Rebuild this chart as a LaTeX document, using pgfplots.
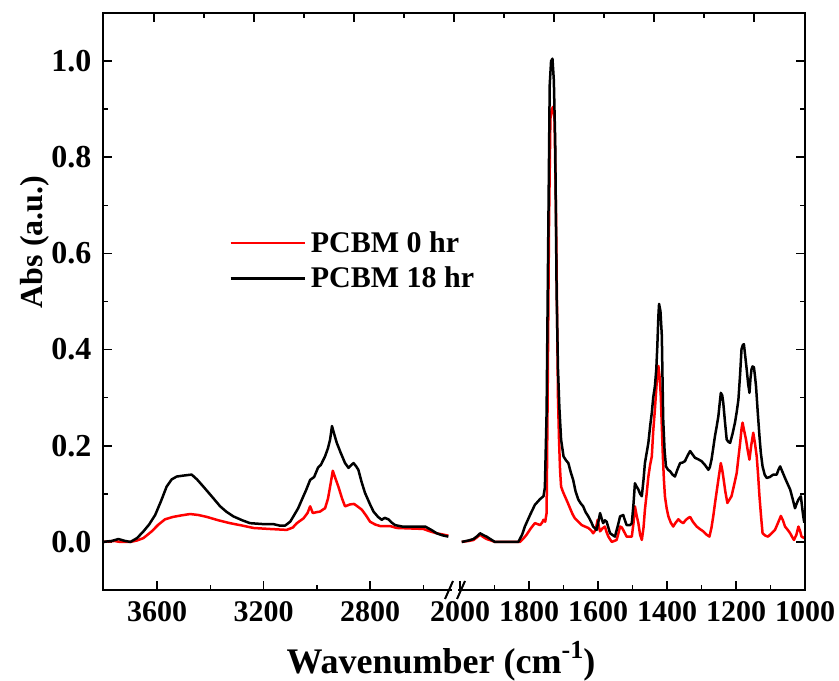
\documentclass[border=0pt]{standalone}
\usepackage{fontspec}
\setmainfont{Liberation Serif}
\usepackage{pgfplots}
\pgfplotsset{compat=1.18}
\usetikzlibrary{calc}

\begin{document}
\begin{tikzpicture}
\pgfplotsset{
  common/.style={
    scale only axis, height=577pt, ymin=-0.1, ymax=1.1, x dir=reverse,
    axis line style={draw=none},
    ytick={0,0.2,0.4,0.6,0.8,1.0},
    minor ytick={-0.1,0.1,0.3,0.5,0.7,0.9,1.1},
    tick style={line width=1.6pt, black},
    major tick length=9pt, minor tick length=5pt,
    tick align=inside,
    /pgf/number format/assume math mode=true,
    /pgf/number format/set thousands separator={},
    xticklabel style={font=\fontsize{30}{30}\selectfont\bfseries, yshift=-8pt},
    yticklabel style={font=\fontsize{32}{32}\selectfont\bfseries, /pgf/number format/fixed, /pgf/number format/fixed zerofill, /pgf/number format/precision=1},
    xtick pos=left,
    every axis plot/.append style={line width=2.5pt, line join=round},
  },
}
% left segment
\begin{axis}[common, name=L, width=352pt, xmin=2481, xmax=3803,
  xtick={3600,3200,2800}, minor xtick={3400,3000,2600},
  ytick pos=left, yticklabel style={xshift=-8pt},
  legend style={draw=none, fill=none, at={(0.35,0.628)}, anchor=north west,
    font=\fontsize{30}{30}\selectfont\bfseries, row sep=9pt},
  legend cell align=left,
  legend image code/.code={\draw[#1, line width=2.5pt] (0pt,0pt) -- (74pt,0pt); \path (77pt,0pt);},
  ]
\addplot[red] coordinates {
(3803,0.000) (3760,0.002) (3740,0.000) (3700,0.000) (3675,0.003) (3651,0.008)
(3620,0.022) (3595,0.036) (3570,0.047) (3540,0.052) (3510,0.055) (3476,0.058)
(3445,0.056) (3413,0.052) (3370,0.045) (3326,0.039) (3280,0.034) (3238,0.029)
(3180,0.027) (3113,0.025) (3090,0.030) (3075,0.039) (3060,0.045) (3050,0.049)
(3035,0.060) (3025,0.074) (3015,0.060) (3000,0.062) (2988,0.063) (2975,0.068)
(2969,0.070) (2958,0.090) (2950,0.115) (2940,0.148) (2930,0.132) (2919,0.115)
(2905,0.090) (2894,0.074) (2875,0.078) (2860,0.079) (2845,0.073) (2831,0.067)
(2815,0.055) (2800,0.042) (2780,0.036) (2762,0.033) (2725,0.033) (2700,0.029)
(2650,0.028) (2600,0.027) (2575,0.022) (2550,0.018) (2506,0.013)
};
\addlegendentry{PCBM 0 hr}
\addplot[black] coordinates {
(3803,0.000) (3770,0.002) (3745,0.006) (3720,0.002) (3700,0.000) (3675,0.008)
(3651,0.022) (3630,0.036) (3607,0.056) (3585,0.085) (3564,0.115) (3545,0.130)
(3526,0.136) (3500,0.138) (3470,0.140) (3450,0.130) (3426,0.115) (3395,0.095)
(3363,0.074) (3340,0.063) (3313,0.053) (3280,0.045) (3251,0.039) (3200,0.037)
(3163,0.037) (3140,0.034) (3119,0.034) (3100,0.042) (3088,0.053) (3070,0.070)
(3056,0.088) (3040,0.108) (3025,0.129) (3010,0.135) (2995,0.155) (2985,0.160)
(2969,0.178) (2958,0.195) (2950,0.213) (2943,0.241) (2935,0.225) (2925,0.206)
(2910,0.185) (2894,0.164) (2881,0.154) (2870,0.160) (2862,0.164) (2852,0.157)
(2844,0.150) (2832,0.125) (2819,0.102) (2800,0.078) (2787,0.063) (2770,0.052)
(2756,0.046) (2745,0.050) (2731,0.047) (2718,0.040) (2706,0.035) (2680,0.032)
(2650,0.032) (2620,0.032) (2593,0.032) (2570,0.025) (2550,0.018) (2530,0.014)
(2506,0.011)
};
\addlegendentry{PCBM 18 hr}
\end{axis}
% right segment
\begin{axis}[common, name=R, at={(L.south east)}, anchor=south west,
  width=350pt, xmin=1000, xmax=2014.5,
  xtick={2000,1800,1600,1400,1200,1000}, minor xtick={1900,1700,1500,1300,1100},
  ytick pos=right, yticklabels={},
  ]
\addplot[red] coordinates {
(1995,0.000) (1975,0.002) (1961,0.004) (1950,0.010) (1942,0.015) (1932,0.010)
(1923,0.006) (1910,0.003) (1899,0.000) (1826,0.000) (1815,0.008) (1807,0.015)
(1795,0.028) (1783,0.039) (1775,0.037) (1768,0.035) (1762,0.040) (1758,0.046)
(1753,0.042) (1749,0.060) (1746,0.300) (1742,0.660) (1738,0.880) (1734,0.900)
(1730,0.905) (1726,0.880) (1722,0.700) (1719,0.500) (1716,0.300) (1713,0.213)
(1710,0.150) (1707,0.115) (1702,0.105) (1696,0.095) (1688,0.082) (1681,0.070)
(1674,0.058) (1667,0.049) (1657,0.042) (1647,0.035) (1638,0.032) (1628,0.029)
(1620,0.024) (1614,0.018) (1607,0.025) (1601,0.046) (1597,0.030) (1594,0.022)
(1587,0.028) (1580,0.032) (1575,0.020) (1570,0.011) (1560,0.000) (1546,0.004)
(1540,0.020) (1536,0.032) (1531,0.030) (1527,0.025) (1517,0.011) (1502,0.011)
(1497,0.040) (1493,0.074) (1488,0.055) (1483,0.039) (1478,0.015) (1473,0.004)
(1468,0.030) (1464,0.067) (1459,0.100) (1454,0.136) (1449,0.160) (1444,0.178)
(1440,0.230) (1435,0.276) (1430,0.330) (1425,0.366) (1421,0.340) (1418,0.303)
(1415,0.240) (1412,0.178) (1409,0.130) (1406,0.095) (1401,0.070) (1396,0.053)
(1389,0.040) (1382,0.032) (1375,0.040) (1367,0.047) (1360,0.042) (1353,0.039)
(1345,0.046) (1338,0.050) (1333,0.052) (1325,0.042) (1314,0.032) (1305,0.027)
(1295,0.022) (1285,0.015) (1277,0.011) (1271,0.030) (1266,0.053) (1260,0.085)
(1254,0.115) (1249,0.140) (1244,0.164) (1240,0.150) (1237,0.136) (1231,0.105)
(1225,0.081) (1219,0.088) (1213,0.095) (1205,0.120) (1198,0.143) (1193,0.175)
(1188,0.206) (1184,0.235) (1181,0.248) (1176,0.230) (1171,0.213) (1166,0.190)
(1161,0.171) (1156,0.200) (1150,0.227) (1145,0.205) (1140,0.178) (1136,0.140)
(1132,0.095) (1127,0.050) (1123,0.018) (1115,0.013) (1107,0.011) (1097,0.018)
(1087,0.025) (1078,0.040) (1070,0.054) (1064,0.045) (1058,0.032) (1050,0.025)
(1043,0.018) (1037,0.010) (1032,0.004) (1025,0.015) (1019,0.032) (1014,0.022)
(1010,0.011) (1002,0.008)
};
\addplot[black] coordinates {
(1995,0.000) (1975,0.003) (1961,0.006) (1950,0.012) (1942,0.018) (1932,0.014)
(1923,0.011) (1910,0.005) (1899,0.000) (1870,0.000) (1831,0.000) (1820,0.015)
(1812,0.032) (1797,0.056) (1783,0.077) (1768,0.089) (1758,0.095) (1754,0.113)
(1749,0.269) (1744,0.650) (1740,0.950) (1736,1.000) (1732,1.005) (1728,0.960)
(1724,0.830) (1720,0.520) (1716,0.360) (1712,0.280) (1707,0.213) (1700,0.178)
(1693,0.170) (1686,0.164) (1679,0.145) (1672,0.129) (1665,0.105) (1657,0.088)
(1650,0.080) (1643,0.074) (1636,0.062) (1628,0.053) (1620,0.042) (1614,0.032)
(1604,0.025) (1598,0.045) (1594,0.060) (1590,0.050) (1585,0.039) (1580,0.045)
(1575,0.042) (1570,0.030) (1565,0.018) (1551,0.011) (1542,0.035) (1536,0.053)
(1527,0.056) (1522,0.045) (1517,0.035) (1507,0.035) (1502,0.039) (1497,0.080)
(1493,0.122) (1488,0.115) (1483,0.109) (1478,0.100) (1473,0.095) (1468,0.130)
(1464,0.164) (1459,0.185) (1454,0.206) (1449,0.240) (1444,0.269) (1440,0.300)
(1435,0.324) (1431,0.360) (1428,0.408) (1425,0.470) (1423,0.495) (1419,0.480)
(1415,0.429) (1413,0.340) (1411,0.255) (1407,0.190) (1403,0.157) (1397,0.150)
(1391,0.147) (1384,0.140) (1377,0.136) (1370,0.150) (1362,0.164) (1355,0.165)
(1348,0.168) (1340,0.180) (1333,0.189) (1326,0.182) (1319,0.175) (1310,0.172)
(1300,0.168) (1290,0.160) (1280,0.150) (1276,0.155) (1271,0.171) (1266,0.195)
(1261,0.220) (1256,0.240) (1251,0.262) (1247,0.290) (1244,0.310) (1240,0.305)
(1237,0.290) (1232,0.250) (1227,0.213) (1222,0.208) (1217,0.206) (1210,0.225)
(1203,0.248) (1198,0.270) (1193,0.296) (1188,0.350) (1184,0.401) (1180,0.410)
(1177,0.411) (1173,0.385) (1169,0.359) (1165,0.330) (1161,0.310) (1158,0.340)
(1155,0.359) (1152,0.365) (1148,0.363) (1145,0.345) (1142,0.324) (1137,0.270)
(1132,0.220) (1128,0.185) (1123,0.157) (1117,0.140) (1111,0.133) (1102,0.135)
(1092,0.140) (1082,0.140) (1077,0.150) (1072,0.157) (1065,0.145) (1058,0.133)
(1050,0.120) (1043,0.109) (1036,0.090) (1029,0.070) (1024,0.080) (1019,0.088)
(1012,0.095) (1008,0.070) (1005,0.053) (1002,0.040)
};
\end{axis}
% top ticks (independent top scale)
\begin{axis}[name=T, at={(L.south west)}, anchor=south west, scale only axis,
  width=702pt, height=577pt, xmin=0, xmax=702, ymin=0, ymax=1,
  axis line style={draw=none}, ytick=\empty,
  xtick={51,151,251,351,451,551,651}, minor xtick={101,201,301,401,501,601},
  xtick pos=right, xticklabels={},
  tick style={line width=1.6pt, black},
  major tick length=9pt, minor tick length=5pt, tick align=inside]
\end{axis}
% frame
\draw[line width=2.6pt] (L.south west) rectangle (R.north east);
% axis break on bottom spine
\fill[white] ($(L.south east)+(-3pt,-2.5pt)$) rectangle ($(L.south east)+(3pt,2.5pt)$);
\draw[line width=2pt] ($(L.south east)+(-10pt,-9pt)$) -- ($(L.south east)+(-2pt,9pt)$);
\draw[line width=2pt] ($(L.south east)+(2pt,-9pt)$) -- ($(L.south east)+(10pt,9pt)$);
% axis titles
\node[anchor=base, font=\fontsize{36}{36}\selectfont\bfseries]
  at ($(L.south west)+(338pt,-84pt)$) {Wavenumber (cm\raisebox{0.42em}{\fontsize{26}{26}\selectfont -1})};
\node[anchor=base, rotate=90, font=\fontsize{32}{32}\selectfont\bfseries]
  at ($(L.south west)+(-60pt,348pt)$) {Abs (a.u.)};
\pgfresetboundingbox
\path[use as bounding box] ($(L.south west)+(-103pt,-91pt)$) rectangle ($(R.north east)+(34pt,13pt)$);
\end{tikzpicture}
\end{document}
